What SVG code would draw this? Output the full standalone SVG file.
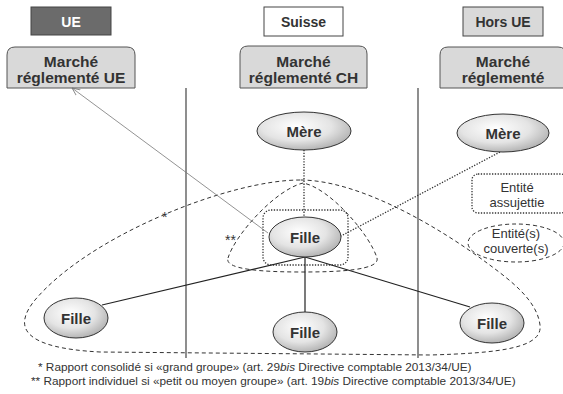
<svg xmlns="http://www.w3.org/2000/svg" width="563" height="394" viewBox="0 0 563 394">
<defs>
<radialGradient id="g" cx="0.42" cy="0.38" r="0.68">
<stop offset="0" stop-color="#ffffff"/>
<stop offset="0.55" stop-color="#e4e4e4"/>
<stop offset="1" stop-color="#ababab"/>
</radialGradient>
<marker id="arr" markerWidth="10" markerHeight="8" refX="8" refY="4" orient="auto" markerUnits="userSpaceOnUse">
<path d="M0,0.5 L8,4 L0,7.5" fill="none" stroke="#777" stroke-width="0.8"/>
</marker>
<style>
text{font-family:"Liberation Sans",Arial,sans-serif;fill:#333}
.hdr{font-size:14px;font-weight:bold;text-anchor:middle}
.mk{font-size:15.5px;font-weight:bold;text-anchor:middle}
.mkt{fill:#d9d9d9;stroke:#555;stroke-width:1}
.node{fill:url(#g);stroke:#333;stroke-width:1}
.nt{font-size:15px;font-weight:bold;text-anchor:middle}
.sm{font-size:13px;text-anchor:middle}
.fn{font-size:11.8px}
.dash{fill:none;stroke:#333;stroke-width:1;stroke-dasharray:4,3}
.dot{fill:none;stroke:#333;stroke-width:1.3;stroke-dasharray:1.3,1.5}
.vl{stroke:#444;stroke-width:1.2}
.solid{stroke:#222;stroke-width:1.2;fill:none}
.star{font-size:14px}
</style>
</defs>

<g id="columns">
<line class="vl" x1="186" y1="88" x2="186" y2="358"/>
<line class="vl" x1="418" y1="88" x2="418" y2="358"/>
</g>

<g id="hdr-ue">
<rect x="31" y="7" width="80" height="28" fill="#6b6b6b" stroke="#444" stroke-width="1"/>
<text class="hdr" x="71" y="27" style="fill:#fff">UE</text>
</g>
<g id="hdr-ch">
<rect x="264" y="7" width="79" height="29" fill="#fff" stroke="#444" stroke-width="1"/>
<text class="hdr" x="303.5" y="27">Suisse</text>
</g>
<g id="hdr-hors">
<rect x="463" y="7" width="80" height="29" fill="#d9d9d9" stroke="#444" stroke-width="1"/>
<text class="hdr" x="503" y="27">Hors UE</text>
</g>

<g id="marche-ue">
<path class="mkt" d="M7,88 V55 Q7,47 15,47 H127 Q135,47 135,55 V88 Z"/>
<text class="mk" x="71" y="67">Marché</text>
<text class="mk" x="71" y="83">réglementé UE</text>
</g>
<g id="marche-ch">
<path class="mkt" d="M240,88 V54 Q240,46 248,46 H359 Q367,46 367,54 V88 Z"/>
<text class="mk" x="303.5" y="67">Marché</text>
<text class="mk" x="303.5" y="83">réglementé CH</text>
</g>
<g id="marche-hors">
<path class="mkt" d="M440,88 V55 Q440,47 448,47 H558 Q566,47 566,55 V88 Z"/>
<text class="mk" x="503" y="67">Marché</text>
<text class="mk" x="503" y="83">réglementé</text>
</g>

<g id="groups">
<path class="dash" d="M300,180 C230,180 90,235 35,300 C12,328 24,348 100,352 L430,355 C500,353 543,348 540,325 C537,300 510,280 487,263 C440,228 360,180 300,180 Z"/>
<path class="dash" d="M228,258 C235,235 275,190 303,183 C330,188 370,235 377,258 C380,270 340,272 303,272 C265,272 224,270 228,258 Z"/>
<rect class="dot" x="263" y="210" width="85" height="55" rx="8"/>
<text class="star" x="162" y="222">*</text>
<text class="star" x="225" y="245">**</text>
</g>

<g id="connectors">
<line class="dot" x1="304" y1="150" x2="304" y2="217"/>
<line class="dot" x1="500" y1="152" x2="341" y2="236"/>
<line x1="268" y1="233" x2="72" y2="88" stroke="#777" stroke-width="0.8" marker-end="url(#arr)"/>
<line class="solid" x1="305" y1="257" x2="102" y2="305"/>
<line class="solid" x1="305" y1="257" x2="305" y2="312"/>
<line class="solid" x1="305" y1="257" x2="470" y2="307"/>
</g>

<g id="mere-ch">
<ellipse class="node" cx="304" cy="131" rx="47" ry="19"/>
<text class="nt" x="304" y="137">Mère</text>
</g>
<g id="mere-hors">
<ellipse class="node" cx="503" cy="133" rx="46" ry="19"/>
<text class="nt" x="503" y="139">Mère</text>
</g>
<g id="fille-ch">
<ellipse class="node" cx="305" cy="237" rx="36" ry="20"/>
<text class="nt" x="305" y="243">Fille</text>
</g>
<g id="fille-ue">
<ellipse class="node" cx="76" cy="318" rx="32" ry="20"/>
<text class="nt" x="76" y="324">Fille</text>
</g>
<g id="fille-mid">
<ellipse class="node" cx="305" cy="332" rx="32" ry="20"/>
<text class="nt" x="305" y="338">Fille</text>
</g>
<g id="fille-hors">
<ellipse class="node" cx="492" cy="323" rx="32" ry="20"/>
<text class="nt" x="492" y="329">Fille</text>
</g>

<g id="legend-assujettie">
<rect class="dot" x="472" y="174" width="95" height="39" rx="6"/>
<text class="sm" x="517" y="192">Entité</text>
<text class="sm" x="517" y="207">assujettie</text>
</g>
<g id="legend-couverte">
<ellipse class="dash" cx="516" cy="243" rx="48" ry="19"/>
<text class="sm" x="516" y="238">Entité(s)</text>
<text class="sm" x="516" y="253">couverte(s)</text>
</g>

<g id="footnotes">
<text class="fn" x="38" y="371">* Rapport consolidé si «grand groupe»  (art. 29<tspan font-style="italic">bis</tspan> Directive comptable 2013/34/UE)</text>
<text class="fn" x="31" y="385">** Rapport individuel si «petit ou moyen groupe» (art. 19<tspan font-style="italic">bis</tspan> Directive comptable 2013/34/UE)</text>
</g>
</svg>
